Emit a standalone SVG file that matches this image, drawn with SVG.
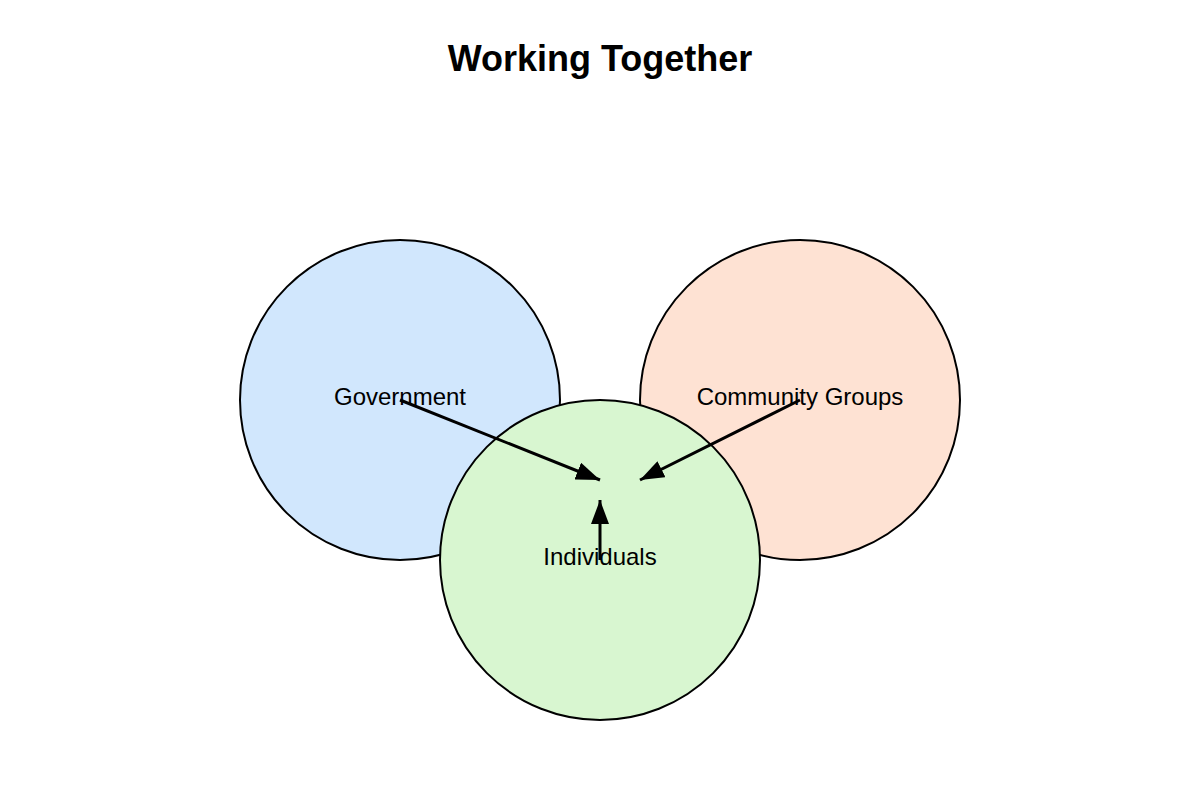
<svg xmlns="http://www.w3.org/2000/svg" width="1200" height="800" viewBox="0 0 1200 800">
<style>
.c{stroke:#000;stroke-width:2}
.lbl{font-family:"Liberation Sans",Arial,sans-serif;font-size:24px;fill:#000;text-anchor:middle}
.title{font-family:"Liberation Sans",Arial,sans-serif;font-size:36px;font-weight:bold;fill:#000;text-anchor:middle}
.a{stroke:#000;stroke-width:3;fill:none;marker-end:url(#ah)}
</style>
<defs>
<marker id="ah" markerUnits="userSpaceOnUse" markerWidth="24" markerHeight="18" refX="24" refY="9" orient="auto">
<path d="M0,0 L24,9 L0,18 Z" fill="#000"/>
</marker>
</defs>
<rect width="1200" height="800" fill="#fff"/>
<text class="title" x="600" y="71">Working Together</text>
<g id="government"><circle class="c" cx="400" cy="400" r="160" fill="#d1e7fd"/></g>
<g id="community"><circle class="c" cx="800" cy="400" r="160" fill="#fee2d3"/></g>
<g id="individuals"><circle class="c" cx="600" cy="560" r="160" fill="#d8f6d0"/></g>
<g id="labels">
<text class="lbl" x="400" y="405">Government</text>
<text class="lbl" x="800" y="405">Community Groups</text>
<text class="lbl" x="600" y="565">Individuals</text>
</g>
<g id="connectors">
<line class="a" x1="400" y1="400" x2="600" y2="480"/>
<line class="a" x1="800" y1="400" x2="640" y2="480"/>
<line class="a" x1="600" y1="560" x2="600" y2="500"/>
</g>
</svg>
